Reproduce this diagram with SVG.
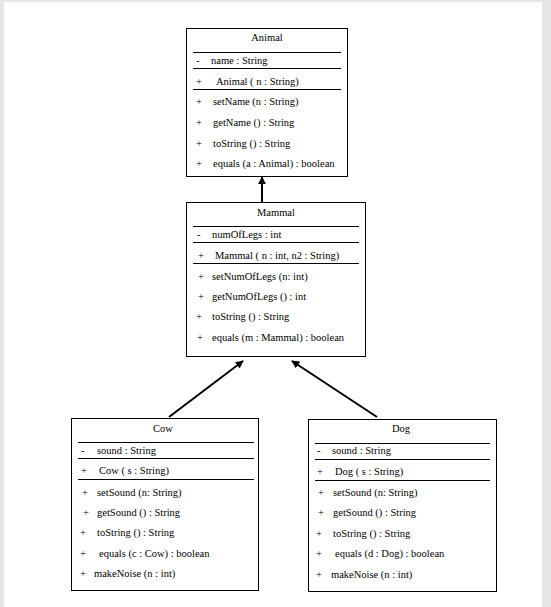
<svg xmlns="http://www.w3.org/2000/svg" width="551" height="607" viewBox="0 0 551 607" font-family="'Liberation Serif', 'Times New Roman', 'DejaVu Serif', serif" font-size="10">
<defs>
<style>
text{font-family:'Liberation Serif','Times New Roman','DejaVu Serif',serif;font-size:10.5px;fill:#000}
.t{text-anchor:middle}
.box{fill:#fff;stroke:#000;stroke-width:1}
.sep{stroke:#000;stroke-width:1}
.con{stroke:#000;stroke-width:2;fill:none}
</style>
<marker id="ah" viewBox="0 0 10 10" refX="9" refY="5" markerWidth="4" markerHeight="4" orient="auto" markerUnits="strokeWidth">
<path d="M0,0 L10,5 L0,10 Z" fill="#000"/>
</marker>
</defs>
<rect x="0" y="0" width="551" height="607" fill="#e6e6e6"/>
<rect x="4" y="2" width="538" height="605" fill="#fff"/>
<g id="connectors">
<line class="con" x1="262" y1="202" x2="262" y2="177" marker-end="url(#ah)"/>
<line class="con" x1="169" y1="417" x2="243" y2="361" marker-end="url(#ah)"/>
<line class="con" x1="377" y1="417" x2="292" y2="361" marker-end="url(#ah)"/>
</g>
<g id="animal">
<rect class="box" x="186.5" y="28.5" width="161" height="148"/>
<text class="t" x="267" y="41">Animal</text>
<line class="sep" x1="193" y1="52.5" x2="341" y2="52.5"/>
<text x="196" y="64">-</text><text x="211" y="64">name : String</text>
<line class="sep" x1="193" y1="68.5" x2="341" y2="68.5"/>
<text x="196" y="85">+</text><text x="216" y="85">Animal ( n : String)</text>
<line class="sep" x1="193" y1="89.5" x2="341" y2="89.5"/>
<text x="196" y="105">+</text><text x="213" y="105">setName (n : String)</text>
<text x="196" y="126">+</text><text x="213" y="126">getName () : String</text>
<text x="196" y="147">+</text><text x="213" y="147">toString () : String</text>
<text x="196" y="167">+</text><text x="213" y="167">equals (a : Animal) : boolean</text>
</g>
<g id="mammal">
<rect class="box" x="186.5" y="202.5" width="179" height="154"/>
<text class="t" x="276" y="216">Mammal</text>
<line class="sep" x1="193" y1="226.5" x2="359" y2="226.5"/>
<text x="197" y="238">-</text><text x="212" y="238">numOfLegs : int</text>
<line class="sep" x1="193" y1="242.5" x2="359" y2="242.5"/>
<text x="198" y="259">+</text><text x="215" y="259">Mammal ( n : int, n2 : String)</text>
<line class="sep" x1="193" y1="263.5" x2="359" y2="263.5"/>
<text x="198" y="280">+</text><text x="212" y="280">setNumOfLegs (n: int)</text>
<text x="198" y="300">+</text><text x="212" y="300">getNumOfLegs () : int</text>
<text x="196" y="320">+</text><text x="212" y="320">toString () : String</text>
<text x="197" y="341">+</text><text x="212" y="341">equals (m : Mammal) : boolean</text>
</g>
<g id="cow">
<rect class="box" x="71.5" y="418.5" width="187" height="172"/>
<text class="t" x="163" y="432">Cow</text>
<line class="sep" x1="78" y1="442.5" x2="254" y2="442.5"/>
<text x="81" y="454">-</text><text x="97" y="454">sound : String</text>
<line class="sep" x1="78" y1="458.5" x2="254" y2="458.5"/>
<text x="81" y="474">+</text><text x="99" y="474">Cow ( s : String)</text>
<line class="sep" x1="78" y1="479.5" x2="254" y2="479.5"/>
<text x="82" y="496">+</text><text x="97" y="496">setSound (n: String)</text>
<text x="83" y="516">+</text><text x="97" y="516">getSound () : String</text>
<text x="80" y="536">+</text><text x="97" y="536">toString () : String</text>
<text x="80" y="557">+</text><text x="99" y="557">equals (c : Cow) : boolean</text>
<text x="80" y="577">+</text><text x="94" y="577">makeNoise (n : int)</text>
</g>
<g id="dog">
<rect class="box" x="308.5" y="419.5" width="188" height="172"/>
<text class="t" x="401" y="432">Dog</text>
<line class="sep" x1="315" y1="443.5" x2="490" y2="443.5"/>
<text x="317" y="454">-</text><text x="332" y="454">sound : String</text>
<line class="sep" x1="315" y1="459.5" x2="490" y2="459.5"/>
<text x="317" y="475">+</text><text x="335" y="475">Dog ( s : String)</text>
<line class="sep" x1="315" y1="480.5" x2="490" y2="480.5"/>
<text x="318" y="496">+</text><text x="333" y="496">setSound (n: String)</text>
<text x="318" y="516">+</text><text x="333" y="516">getSound () : String</text>
<text x="316" y="537">+</text><text x="333" y="537">toString () : String</text>
<text x="316" y="557">+</text><text x="335" y="557">equals (d : Dog) : boolean</text>
<text x="316" y="578">+</text><text x="331" y="578">makeNoise (n : int)</text>
</g>
</svg>
